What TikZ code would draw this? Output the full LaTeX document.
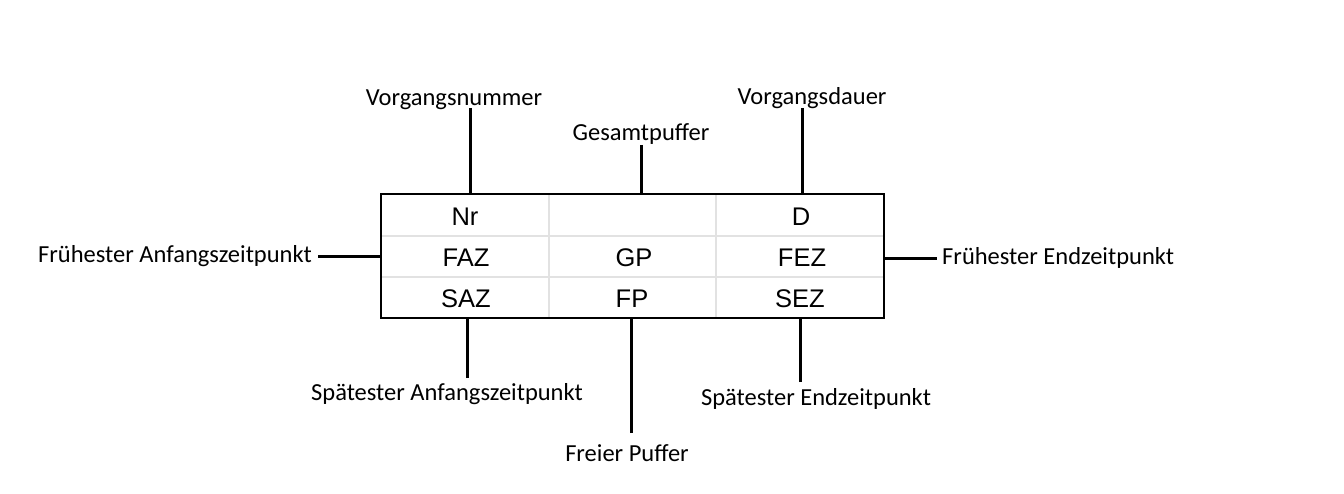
\documentclass[tikz,border=0pt]{standalone}
\usepackage{fontspec}
\setmainfont{Carlito}
\newfontfamily\cellfont{Liberation Sans}
\usetikzlibrary{calc}
\definecolor{gridgray}{HTML}{E2E2E2}

\tikzset{
    lbl/.style={font=\fontsize{24.5}{28}\selectfont, inner sep=2pt, anchor=base},
    cell/.style={font=\cellfont\fontsize{25.5}{28}\selectfont, anchor=base},
    conn/.style={black, line width=3pt},
    gridline/.style={gridgray, line width=1.3pt},
}

\begin{document}
\begin{tikzpicture}[x=1pt, y=-1pt]
    \useasboundingbox[fill=white] (0,0) rectangle (1344,494);
    % inner grid of the box
    \draw [gridline] (549,194) -- (549,318);
    \draw [gridline] (716,194) -- (716,318);
    \draw [gridline] (381,236) -- (884,236);
    \draw [gridline] (381,277) -- (884,277);
    \node [draw, line width=2.8pt, minimum width=503pt, minimum height=124pt, inner sep=0pt] (box) at (632.5,256) {};
    \node [cell] (nr) at (465,226) {Nr};
    \node [cell] (dauer) at (801,226) {D};
    \node [cell] (faz) at (466,267) {FAZ};
    \node [cell] (gp) at (634,267) {GP};
    \node [cell] (fez) at (802,267) {FEZ};
    \node [cell] (saz) at (466,308) {SAZ};
    \node [cell] (fp) at (632,308) {FP};
    \node [cell] (sez) at (800,308) {SEZ};
    % labels round the box
    \node [lbl] (vnr) at (454,106) {Vorgangsnummer};
    \node [lbl] (vgp) at (641,141) {Gesamtpuffer};
    \node [lbl] (vd) at (812,105) {Vorgangsdauer};
    \node [lbl, anchor=base east] (vfaz) at (314,263) {Frühester Anfangszeitpunkt};
    \node [lbl, anchor=base west] (vfez) at (940,265) {Frühester Endzeitpunkt};
    \node [lbl] (vsaz) at (447,400) {Spätester Anfangszeitpunkt};
    \node [lbl] (vfp) at (627,461) {Freier Puffer};
    \node [lbl] (vsez) at (816,405) {Spätester Endzeitpunkt};
    \coordinate (pnr) at (470,194);
    \coordinate (pgp) at (641,194);
    \coordinate (pd) at (802,194);
    \coordinate (psaz) at (467,318);
    \coordinate (pfp) at (631,318);
    \coordinate (psez) at (800,318);
    \draw [conn] ($(vnr.base -| pnr)+(0,2)$) -- (pnr);
    \draw [conn] ($(vgp.base -| pgp)+(0,4)$) -- (pgp);
    \draw [conn] ($(vd.base -| pd)+(0,3)$) -- (pd);
    \draw [conn] ($(vsaz.base -| psaz)+(0,-22)$) -- (psaz);
    \draw [conn] ($(vfp.base -| pfp)+(0,-28)$) -- (pfp);
    \draw [conn] ($(vsez.base -| psez)+(0,-23)$) -- (psez);
    \draw [conn] ($(vfaz.east)+(4,0)$) -- (vfaz.east -| box.west);
    \draw [conn] (vfez.west -| box.east) -- ($(vfez.west)+(-3,0)$);
\end{tikzpicture}
\end{document}
